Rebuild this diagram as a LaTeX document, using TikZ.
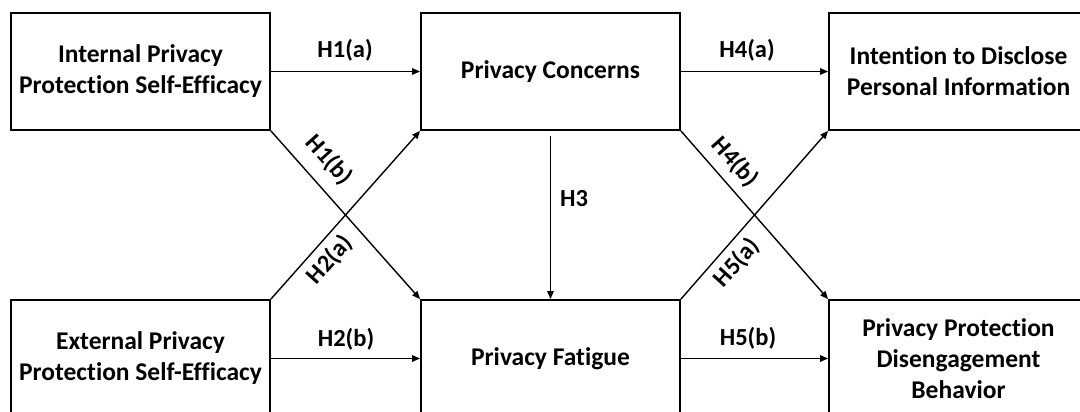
\documentclass[tikz,border=0pt]{standalone}
\usepackage{fontspec}
\setmainfont{Carlito}[Ligatures=NoCommon]
\usetikzlibrary{arrows.meta}
\begin{document}
\begin{tikzpicture}[x=1pt,y=-1pt,
 box/.style={draw,line width=1.8pt,minimum width=259pt,minimum height=117pt,align=center,font=\bfseries\fontsize{25.5}{31}\selectfont,inner sep=0pt},
 arr/.style={line width=1.4pt,-{Triangle[length=8pt,width=6.5pt]}},
 lab/.style={font=\bfseries\fontsize{24.5}{28}\selectfont,inner sep=0pt}]
\useasboundingbox (0,0) rectangle (1080,412);
\clip (0,0) rectangle (1080,412);
\node[box] (A) at (140.5,71.5) {Internal Privacy\\Protection Self-Efficacy};
\node[box] (B) at (550.5,71.5) {Privacy Concerns};
\node[box] (C) at (958.5,71.5) {Intention to Disclose\\Personal Information};
\node[box] (D) at (140.5,358.5) {External Privacy\\Protection Self-Efficacy};
\node[box] (E) at (550.5,358.5) {Privacy Fatigue};
\node[box] (F) at (958.5,358.5) {Privacy Protection\\Disengagement\\Behavior};
\draw[arr] (A.east) -- (B.west);
\draw[arr] (B.east) -- (C.west);
\draw[arr] (D.east) -- (E.west);
\draw[arr] (E.east) -- (F.west);
\draw[arr] (A.south east) -- (E.north west);
\draw[arr] (D.north east) -- (B.south west);
\draw[arr] (B.south east) -- (F.north west);
\draw[arr] (E.north east) -- (C.south west);
\draw[arr] ([yshift=-5pt]B.south) -- (E.north);
\node[lab] (l1a) at (345,50) {H1(a)};
\node[lab] (l4a) at (747,50) {H4(a)};
\node[lab] (l2b) at (346,339) {H2(b)};
\node[lab] (l5b) at (748,338) {H5(b)};
\node[lab] (l3) at (574,199) {H3};
\node[lab,rotate=-48] (l1b) at (329,160) {H1(b)};
\node[lab,rotate=48] (l2a) at (330,260) {H2(a)};
\node[lab,rotate=-48] (l4b) at (735,162) {H4(b)};
\node[lab,rotate=48] (l5a) at (737,263) {H5(a)};
\end{tikzpicture}
\end{document}
